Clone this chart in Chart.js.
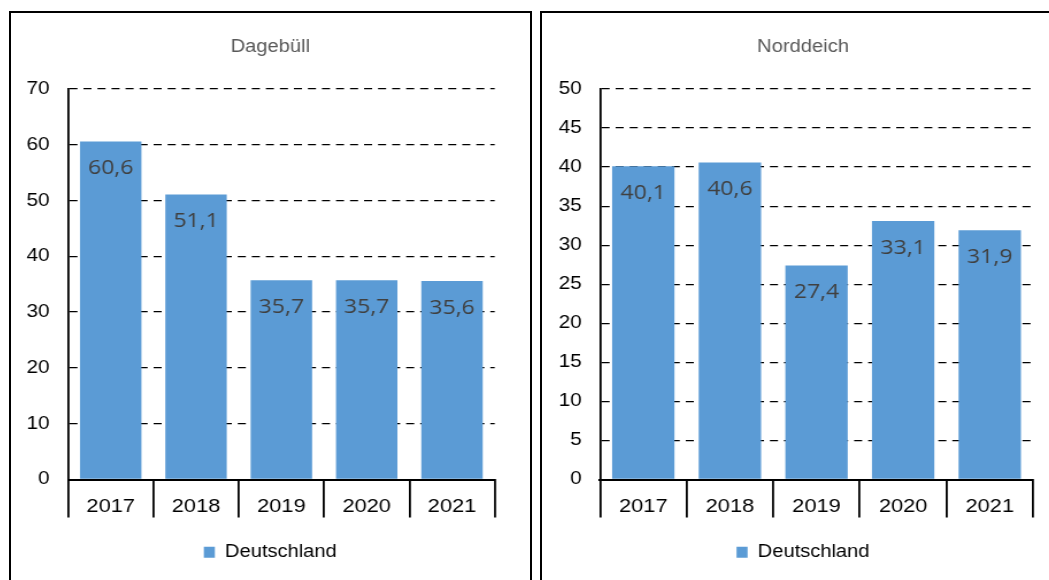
<!DOCTYPE html>
<html>
<head>
<meta charset="utf-8">
<script src="https://cdn.jsdelivr.net/npm/chart.js@4"></script>
<style>
  html, body { margin: 0; padding: 0; background: #fff; overflow: hidden; }
  body { width: 1049px; height: 580px; position: relative; }
  .frame { position: absolute; top: 11px; height: 600px; border: 2px solid #000; box-sizing: content-box; overflow: hidden; }
  #box-left { left: 9px; width: 519px; }
  #box-right { left: 540px; width: 522px; }
  /* the original picture is a little wider than tall, so stretch horizontally */
  canvas { position: absolute; left: 0; top: 0; transform: scaleX(1.15); transform-origin: 0 0; }
</style>
</head>
<body>
<div class="frame" id="box-left"><canvas id="chart-left" width="451" height="567"></canvas></div>
<div class="frame" id="box-right"><canvas id="chart-right" width="454" height="567"></canvas></div>
<script>
// Daten
const years = ['2017', '2018', '2019', '2020', '2021'];
const seriesName = 'Deutschland';
const dagebuellValues = [60.6, 51.1, 35.7, 35.7, 35.6];
const norddeichValues = [40.1, 40.6, 27.4, 33.1, 31.9];
const dagebuellTicks = { max: 70, step: 10 };
const norddeichTicks = { max: 50, step: 5 };

const BAR_BLUE = '#5B9BD5';
const FONT = '"Liberation Sans", Arial, sans-serif';

// Werte in die Balken schreiben (Komma als Dezimaltrenner)
const barLabels = {
  id: 'barLabels',
  afterDatasetsDraw(chart) {
    const ctx = chart.ctx;
    const meta = chart.getDatasetMeta(0);
    const data = chart.data.datasets[0].data;
    ctx.save();
    ctx.font = '20px "Open Sans", "Noto Sans", sans-serif';
    ctx.fillStyle = '#404040';
    ctx.textAlign = 'center';
    ctx.textBaseline = 'middle';
    meta.data.forEach((bar, i) => {
      ctx.fillText(data[i].toFixed(1).replace('.', ','), bar.x, bar.y + 27);
    });
    ctx.restore();
  }
};

function buildChart(canvasId, title, values, yTicks, yWidth, rightPad) {
  const ctx = document.getElementById(canvasId).getContext('2d');
  return new Chart(ctx, {
    type: 'bar',
    data: {
      labels: years,
      datasets: [{
        label: seriesName,
        data: values,
        backgroundColor: BAR_BLUE,
        barPercentage: 0.72,
        categoryPercentage: 1.0
      }]
    },
    options: {
      responsive: false,
      animation: false,
      layout: { padding: { left: 0, right: 0, top: 0, bottom: 9 } },
      scales: {
        x: {
          grid: { display: true, drawOnChartArea: false, tickLength: 38, color: '#000', lineWidth: 1.8, offset: true },
          border: { display: true, color: '#000', width: 2 },
          ticks: { color: '#000', font: { family: FONT, size: 19 }, padding: -22 },
          afterFit: s => { s.height = 54; }
        },
        y: {
          min: 0,
          max: yTicks.max,
          ticks: { stepSize: yTicks.step, color: '#000', font: { family: FONT, size: 18 }, padding: 16 },
          grid: { color: '#000', lineWidth: 1.3, drawTicks: false },
          border: { display: true, color: '#000', width: 1.8, dash: [7, 5.2] },
          afterFit: s => { s.width = yWidth; }
        },
        pad: {
          type: 'linear',
          position: 'right',
          display: true,
          grid: { display: false },
          border: { display: false },
          ticks: { display: false },
          afterFit: s => { s.width = rightPad; }
        }
      },
      plugins: {
        title: {
          display: true,
          text: title,
          color: '#595959',
          font: { family: FONT, size: 17.5, weight: 'normal' },
          padding: { top: 23.5, bottom: 31.5 }
        },
        legend: {
          position: 'bottom',
          labels: {
            color: '#000',
            boxWidth: 9.6,
            boxHeight: 11,
            padding: 10,
            font: { family: FONT, size: 17.5 }
          }
        },
        tooltip: { enabled: false }
      }
    },
    plugins: [barLabels]
  });
}

buildChart('chart-left', 'Dagebüll', dagebuellValues, dagebuellTicks, 49.6, 30.4);
buildChart('chart-right', 'Norddeich', norddeichValues, norddeichTicks, 50.4, 27);
</script>
</body>
</html>
